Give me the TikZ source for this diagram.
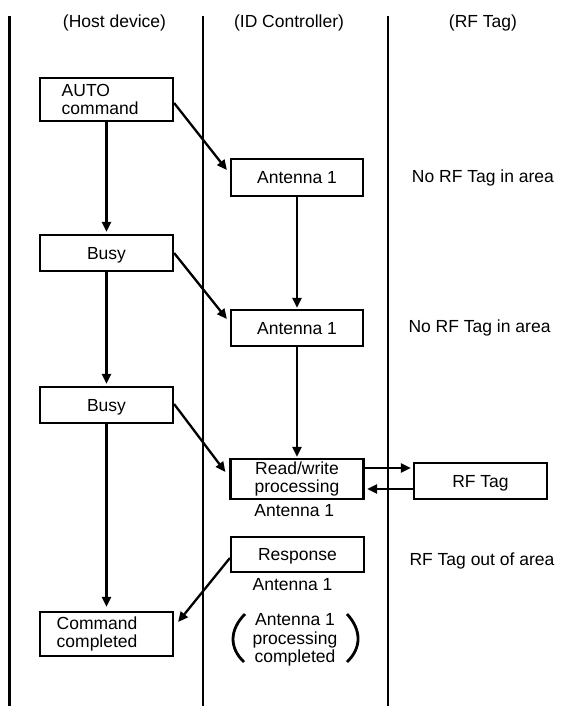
\documentclass[tikz,border=0pt]{standalone}
\usepackage{fontspec}
\setmainfont{Liberation Sans}
\usetikzlibrary{arrows.meta,calc}
\begin{document}
\begin{tikzpicture}[x=1pt,y=-1pt,
  every node/.style={font=\fontsize{17.5}{17.5}\selectfont},
  box/.style={draw, line width=2.2pt, inner sep=0pt, minimum width=133pt, align=center},
  one/.style={text height=12.6pt, text depth=0pt},
  arr/.style={line width=2.3pt, -{Triangle[length=10pt,width=9pt]}},
  lane/.style={line width=2.4pt},
  txt/.style={inner sep=0pt},
  paren/.style={line width=2.8pt}]
\useasboundingbox (0,0) rectangle (565,706);

% swim lanes
\draw[lane] (9.5,16) -- (9.5,706);
\draw[lane] (203,16) -- (203,706);
\draw[lane] (388,16) -- (388,706);

% headers
\node[txt, anchor=base] (h1) at (114.5,27.7) {(Host device)};
\node[txt, anchor=base] (h2) at (289,27.7) {(ID Controller)};
\node[txt, anchor=base] (h3) at (483,27.7) {(RF Tag)};

% host boxes
\node[box, minimum height=43pt, text width=89.6pt, align=left] (auto) at (106.5,99.5) {AUTO\\command};
\node[box, one, minimum height=36pt] (busy1) at (106.5,253) {Busy};
\node[box, one, minimum height=36pt] (busy2) at (106.5,405) {Busy};
\node[box, minimum height=44pt, text width=99.6pt, align=left] (cmd) at (106.5,634) {Command\\completed};

% controller boxes
\node[box, one, minimum width=132pt, minimum height=37pt] (ant1) at (297,177.5) {Antenna 1};
\node[box, one, minimum width=132pt, minimum height=36pt] (ant2) at (297,328) {Antenna 1};
\node[box, minimum height=40pt, font=\fontsize{17.5}{18}\selectfont] (rw) at (297,479) {Read/write\\processing};
\node[box, one, minimum height=35pt] (resp) at (297.5,554.5) {Response};

% tag box
\node[box, one, minimum height=36pt] (rf) at (480.5,481) {RF Tag};

% labels
\node[txt, anchor=base] (l1) at (294.3,516.7) {Antenna 1};
\node[txt, anchor=base] (l2) at (292.5,590) {Antenna 1};
\node[txt, anchor=base west] (n1) at (411.7,182.7) {No RF Tag in area};
\node[txt, anchor=base west] (n2) at (408.3,332.3) {No RF Tag in area};
\node[txt, anchor=base west] (n3) at (409.3,565) {RF Tag out of area};

\node[txt, align=center, font=\fontsize{17.5}{18.5}\selectfont] (done) at (295,640) {Antenna 1\\processing\\completed};
\draw[paren] (245,614) .. controls (229.2,630) and (229.2,648) .. (244,662);
\draw[paren] (347,614) .. controls (361.7,630) and (361.7,648) .. (347,662);

% host flow
\draw[arr, shorten >=2pt] (auto) -- (busy1);
\draw[arr, shorten >=2pt] (busy1) -- (busy2);
\draw[arr, shorten >=4pt] (busy2) -- (cmd);

% controller flow
\draw[arr, shorten >=1pt] (ant1) -- (ant2);
\draw[arr, shorten >=1pt] (ant2) -- (rw);

% cross arrows
\draw[arr] ($(auto.east)+(0,3.5)$) -- ($(ant1.west)+(-3,-7.5)$);
\draw[arr] (busy1.east) -- ($(ant2.west)+(-3,-9)$);
\draw[arr] ($(busy2.east)+(0,-1)$) -- ($(rw.west)+(-4,-7)$);
\draw[arr] ($(resp.west)+(0,3.5)$) -- ($(cmd.east)+(4,-12)$);

% tag exchange
\draw[arr, shorten >=2pt] ($(rw.east)+(0,-11)$) -- ($(rf.west)+(0,-13)$);
\draw[arr, shorten >=2.5pt] ($(rf.west)+(0,8)$) -- ($(rw.east)+(0,10)$);
\end{tikzpicture}
\end{document}
